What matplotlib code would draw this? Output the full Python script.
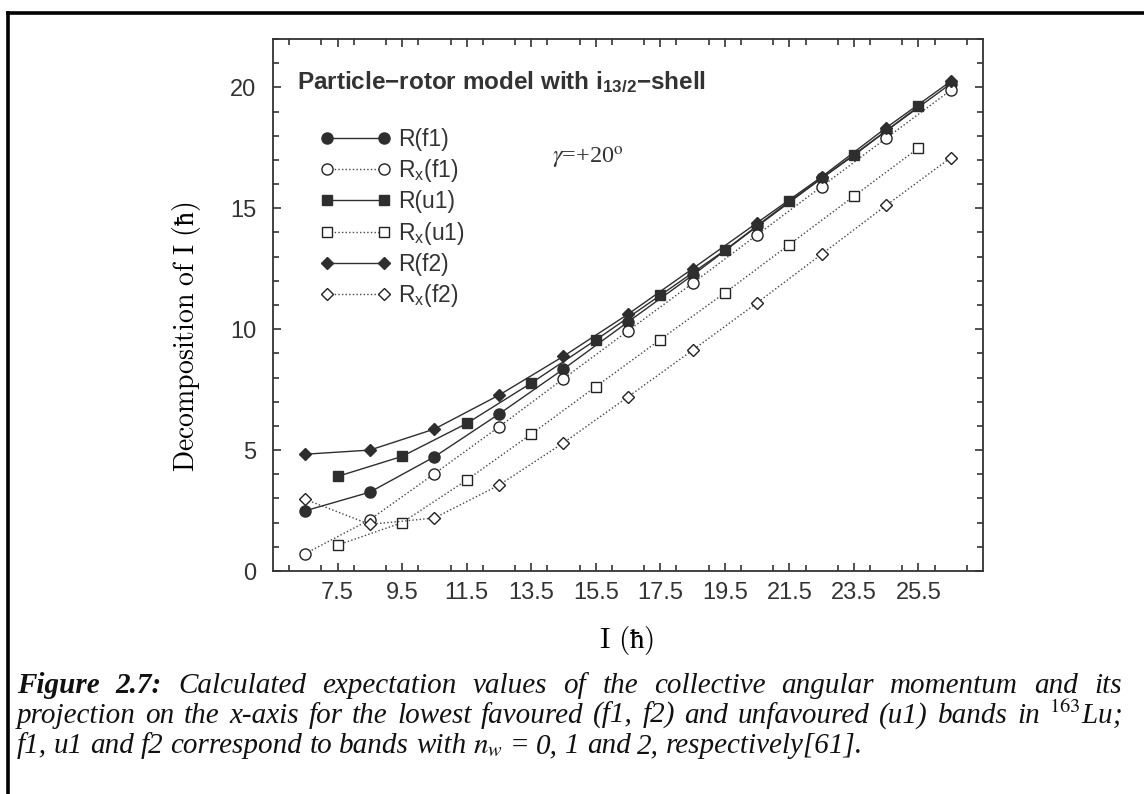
import numpy as np
import matplotlib.pyplot as plt
from matplotlib.lines import Line2D
from matplotlib.ticker import MultipleLocator, FixedLocator

plt.rcParams['font.family'] = ['Liberation Sans', 'DejaVu Sans']
plt.rcParams['mathtext.fontset'] = 'custom'
plt.rcParams['mathtext.rm'] = 'Liberation Sans'
plt.rcParams['mathtext.it'] = 'Liberation Sans:italic'
plt.rcParams['mathtext.bf'] = 'Liberation Sans:bold'

# spin values (hbar)
I_f = [6.5, 8.5, 10.5, 12.5, 14.5, 16.5, 18.5, 20.5, 22.5, 24.5, 26.5]
I_u = [7.5, 9.5, 11.5, 13.5, 15.5, 17.5, 19.5, 21.5, 23.5, 25.5]

R_f1 = [2.49, 3.26, 4.72, 6.49, 8.35, 10.30, 12.23, 14.25, 16.24, 18.20, 20.15]
Rx_f1 = [0.72, 2.12, 4.02, 5.96, 7.95, 9.93, 11.90, 13.90, 15.90, 17.90, 19.88]
R_u1 = [3.91, 4.74, 6.10, 7.77, 9.55, 11.40, 13.26, 15.29, 17.19, 19.21]
Rx_u1 = [1.07, 2.00, 3.76, 5.66, 7.62, 9.57, 11.50, 13.50, 15.50, 17.49]
R_f2 = [4.83, 5.00, 5.87, 7.27, 8.88, 10.62, 12.50, 14.40, 16.30, 18.33, 20.25]
Rx_f2 = [2.96, 1.93, 2.19, 3.55, 5.30, 7.20, 9.13, 11.09, 13.10, 15.12, 17.09]

xticks = [7.5, 9.5, 11.5, 13.5, 15.5, 17.5, 19.5, 21.5, 23.5, 25.5]
yticks = [0, 5, 10, 15, 20]

W, H = 1144, 794
fig = plt.figure(figsize=(W / 100, H / 100), dpi=100)
ax = fig.add_axes([273 / W, 1 - 571 / H, 710 / W, 532 / H])

dark = '#2e2e2e'
solid = dict(color=dark, lw=1.0, ls='-')
dots = dict(color='#444444', lw=1.0, ls=(0, (1, 1.6)))

ax.plot(I_f, R_f1, marker='o', ms=8, mfc=dark, mec=dark, label='R(f1)', **solid)
ax.plot(I_f, Rx_f1, marker='o', ms=8, mfc='white', mec='#222222', mew=1.0,
        label='R$_\\mathrm{x}$(f1)', **dots)
ax.plot(I_u, R_u1, marker='s', ms=7, mfc=dark, mec=dark, label='R(u1)', **solid)
ax.plot(I_u, Rx_u1, marker='s', ms=6.5, mfc='white', mec='#222222', mew=1.0,
        label='R$_\\mathrm{x}$(u1)', **dots)
ax.plot(I_f, R_f2, marker='D', ms=5.8, mfc=dark, mec=dark, label='R(f2)', **solid)
ax.plot(I_f, Rx_f2, marker='D', ms=5.8, mfc='white', mec='#222222', mew=1.0,
        label='R$_\\mathrm{x}$(f2)', **dots)

ax.set_xlim(5.5, 27.5)
ax.set_ylim(0, 22)
ax.xaxis.set_major_locator(FixedLocator(xticks))
ax.xaxis.set_minor_locator(MultipleLocator(1))
ax.yaxis.set_major_locator(FixedLocator(yticks))
ax.yaxis.set_minor_locator(MultipleLocator(1))
ax.set_xticklabels([str(v) for v in xticks])
ax.tick_params(which='both', direction='in', top=True, right=True,
               color='#333333', width=1.2)
ax.tick_params(which='major', length=6, labelsize=17, labelcolor='#333333')
ax.tick_params(which='minor', length=4.5)
ax.tick_params(axis='y', pad=12)
ax.tick_params(axis='x', pad=8)
for s in ax.spines.values():
    s.set_color('#333333')
    s.set_linewidth(1.3)

ax.set_ylabel(r'$\mathrm{Decomposition\ of\ I\ (\hbar)}$', fontsize=20,
              math_fontfamily='cm')
ax.set_xlabel(r'$\mathrm{I\ (\hbar)}$', fontsize=21, math_fontfamily='cm')
ax.yaxis.set_label_coords(-0.098, 0.44)
ax.xaxis.set_label_coords(0.498, -0.10)

fig.text(297 / W, 1 - 89 / H, 'Particle\u2212rotor model with i$_\\mathbf{13/2}$\u2212shell',
         fontsize=17.5, fontweight='bold', color='#333333')
fig.text(552 / W, 1 - 164 / H, r'$\gamma$=+20$^\mathrm{o}$', fontsize=17.5,
         family='Liberation Serif', math_fontfamily='stix', color='#333333')

leg = ax.legend(loc='upper left', bbox_to_anchor=(320 / W, 1 - 128 / H),
                bbox_transform=fig.transFigure, frameon=False, numpoints=2,
                fontsize=16.5, handlelength=3.09, handletextpad=0.31,
                labelspacing=0.27, borderpad=0, borderaxespad=0)
for t in leg.get_texts():
    t.set_color('#333333')

# page frame
fig.add_artist(Line2D([8 / W, 8 / W], [-0.1, 1 - 13 / H], transform=fig.transFigure,
                      color='black', lw=2.6))
fig.add_artist(Line2D([8 / W, 1.1], [1 - 13 / H, 1 - 13 / H], transform=fig.transFigure,
                      color='black', lw=2.6))

# caption, justified like the source page
cap_lines = [
    ([('Figure', True), ('2.7:', True), ('Calculated', False), ('expectation', False),
      ('values', False), ('of', False), ('the', False), ('collective', False),
      ('angular', False), ('momentum', False), ('and', False), ('its', False)], True),
    ([('projection', False), ('on', False), ('the', False), ('x-axis', False),
      ('for', False), ('the', False), ('lowest', False), ('favoured', False),
      ('(f1,', False), ('f2)', False), ('and', False), ('unfavoured', False),
      ('(u1)', False), ('bands', False), ('in', False),
      (r'$^{\mathit{163}}$Lu;', False)], True),
    ([('f1,', False), ('u1', False), ('and', False), ('f2', False),
      ('correspond', False), ('to', False), ('bands', False), ('with', False),
      (r'$\mathit{n_w}$', False), ('=', False), ('0,', False), ('1', False),
      ('and', False), ('2,', False), ('respectively[61].', False)], False),
]
baselines = [693, 723, 753]
x0, x1 = 17, 1122
cap_size = 21
renderer = fig.canvas.get_renderer()
for (words, justify), yb in zip(cap_lines, baselines):
    texts = [fig.text(0, 1 - yb / H, w, fontsize=cap_size, family='Liberation Serif',
                      style='italic', fontweight='bold' if b else 'normal',
                      math_fontfamily='stix', va='baseline', color='#111111')
             for w, b in words]
    widths = [t.get_window_extent(renderer).width for t in texts]
    gap = (x1 - x0 - sum(widths)) / (len(texts) - 1) if justify else cap_size * 0.33
    x = x0
    for t, w in zip(texts, widths):
        t.set_x(x / W)
        x += w + gap

fig.savefig('out.png', dpi=100)
